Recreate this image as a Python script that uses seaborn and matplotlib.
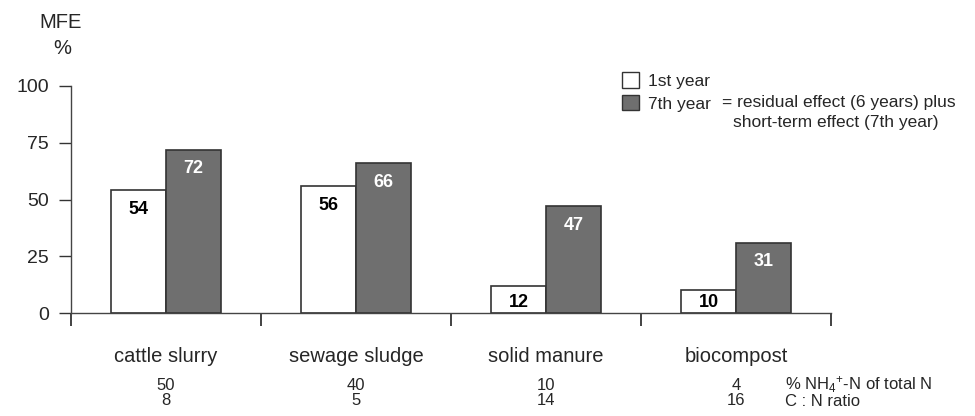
import pandas as pd
import numpy as np
from matplotlib import pyplot as plt
from matplotlib.patches import Patch
import seaborn as sns

# MFE of organic fertilisers, 1st vs 7th year
materials = ["cattle slurry", "sewage sludge", "solid manure", "biocompost"]
years = ["1st year", "7th year"]
mfe_1st = [54, 56, 12, 10]
mfe_7th = [72, 66, 47, 31]
nh4_share = [50, 40, 10, 4]
cn_ratio = [8, 5, 14, 16]

df = pd.DataFrame({
    "material": materials * 2,
    "year": [years[0]] * 4 + [years[1]] * 4,
    "mfe": mfe_1st + mfe_7th,
})

sns.set_style("ticks")
plt.rcParams["font.family"] = ["Liberation Sans", "DejaVu Sans"]
plt.rcParams["mathtext.fontset"] = "custom"
plt.rcParams["mathtext.rm"] = "Liberation Sans"
plt.rcParams["mathtext.it"] = "Liberation Sans:italic"

fig = plt.figure(figsize=(9.75, 4.16), dpi=100)
ax = fig.add_axes([71 / 975, 103 / 416, 760 / 975, 227 / 416])

gray = "#6f6f6f"
edge = "#333333"
sns.barplot(data=df, x="material", y="mfe", hue="year", hue_order=years,
            palette=["white", gray], saturation=1, width=0.58,
            edgecolor=edge, linewidth=1.2, legend=False, ax=ax)

# value labels inside the bars
for cont, col in zip(ax.containers, ["black", "white"]):
    for bar in cont:
        v = bar.get_height()
        ax.text(bar.get_x() + bar.get_width() / 2, max(v - 8.5, 4.8), f"{v:.0f}",
                ha="center", va="center", fontsize=13, fontweight="bold", color=col)

ax.set_xlim(-0.5, 3.5)
ax.set_ylim(0, 100)
ax.set_yticks([0, 25, 50, 75, 100])
ax.set_xticks(np.arange(-0.5, 4, 1))
ax.set_xticklabels([])
ax.tick_params(axis="y", length=9, width=1, color="#333333", labelsize=14, pad=7)
ax.tick_params(axis="x", length=9, width=1.2, color="#222222")
ax.set_xlabel("")
ax.set_ylabel("")
sns.despine(ax=ax)
for s in ["left", "bottom"]:
    ax.spines[s].set_color("#444444")
    ax.spines[s].set_linewidth(1)

# category names and the two rows underneath
trans = ax.get_xaxis_transform()
for i, name in enumerate(materials):
    ax.text(i, -0.19, name, transform=trans, ha="center", va="center", fontsize=14.5)
    ax.text(i, -0.32, str(nh4_share[i]), transform=trans, ha="center", va="center", fontsize=12)
    ax.text(i, -0.385, str(cn_ratio[i]), transform=trans, ha="center", va="center", fontsize=12)
fig.text(785 / 975, 1 - 385 / 416, "% NH$_4$$^{+}$-N of total N", ha="left", va="center", fontsize=12)
fig.text(785 / 975, 1 - 401 / 416, "C : N ratio", ha="left", va="center", fontsize=12)

# axis caption
fig.text(61 / 975, 1 - 22 / 416, "MFE", ha="center", va="center", fontsize=14.5)
fig.text(62 / 975, 1 - 48 / 416, "%", ha="center", va="center", fontsize=14.5)

# legend
handles = [Patch(facecolor="white", edgecolor=edge, label=years[0]),
           Patch(facecolor=gray, edgecolor=edge, label=years[1])]
leg = fig.legend(handles=handles, loc="upper left", bbox_to_anchor=(622 / 975, 1 - 72 / 416),
                 frameon=False, fontsize=12.5, handlelength=1.0, handleheight=1.0,
                 handletextpad=0.5, labelspacing=0.35, borderaxespad=0, borderpad=0)
fig.text(722 / 975, 1 - 103 / 416, "= residual effect (6 years) plus", ha="left", va="center", fontsize=12.5)
fig.text(733 / 975, 1 - 122 / 416, "short-term effect (7th year)", ha="left", va="center", fontsize=12.5)

fig.savefig("out.png", dpi=100)
